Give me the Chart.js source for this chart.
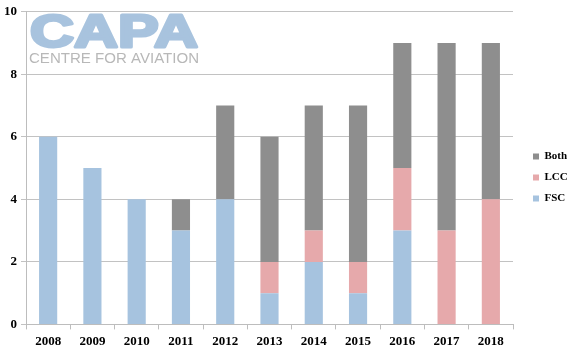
<!DOCTYPE html>
<html>
<head>
<meta charset="utf-8">
<script src="https://cdn.jsdelivr.net/npm/chart.js@4"></script>
<style>
  html, body { margin: 0; padding: 0; background: #fff; }
  #wrap { width: 579px; height: 353px; }
</style>
</head>
<body>
<div id="wrap"><canvas id="chart"></canvas></div>
<script>
const years = ['2008', '2009', '2010', '2011', '2012', '2013', '2014', '2015', '2016', '2017', '2018'];
const fsc  = [6, 5, 4, 3, 4, 1, 2, 1, 3, 0, 0];
const lcc  = [0, 0, 0, 0, 0, 1, 1, 1, 2, 3, 4];
const both = [0, 0, 0, 1, 3, 4, 4, 5, 4, 6, 5];
const yTicks = [0, 2, 4, 6, 8, 10];

const tickFont = { family: 'Liberation Serif', weight: 'bold', size: 13 };

// CAPA watermark in the top left of the plot
const watermark = {
    id: 'watermark',
    beforeDatasetsDraw(chart) {
        const ctx = chart.ctx;
        const left = chart.chartArea.left + 3;
        ctx.save();
        ctx.textBaseline = 'alphabetic';
        ctx.textAlign = 'left';

        ctx.font = 'bold 46px "Liberation Sans"';
        ctx.fillStyle = '#a8c3de';
        ctx.strokeStyle = '#a8c3de';
        ctx.lineWidth = 3;
        ctx.lineJoin = 'round';
        let w = ctx.measureText('CAPA').width;
        ctx.save();
        ctx.translate(left + 1, 47);
        ctx.scale(168 / w, 1);
        ctx.fillText('CAPA', 0, 0);
        ctx.strokeText('CAPA', 0, 0);
        ctx.restore();

        ctx.font = '15px "Liberation Sans"';
        ctx.fillStyle = '#b8b8b8';
        w = ctx.measureText('CENTRE FOR AVIATION').width;
        ctx.translate(left, 63);
        ctx.scale(170 / w, 1);
        ctx.fillText('CENTRE FOR AVIATION', 0, 0);
        ctx.restore();
    }
};

// fixed legend column on the right, items pushed in a bit
const legendBox = {
    id: 'legendBox',
    afterInit(chart) {
        const lg = chart.legend;
        const fit = lg.fit;
        lg.fit = function () {
            fit.call(this);
            this.width = 66;
        };
    },
    beforeDraw(chart) {
        chart.legend.left = chart.chartArea.right + 10;
        chart.legend.top -= 2;
    }
};

new Chart(document.getElementById('chart'), {
    type: 'bar',
    data: {
        labels: years,
        datasets: [
            { label: 'FSC', data: fsc, backgroundColor: '#a6c3df' },
            { label: 'LCC', data: lcc, backgroundColor: '#e6a9ab' },
            { label: 'Both', data: both, backgroundColor: '#8e8e8e' }
        ]
    },
    options: {
        responsive: true,
        maintainAspectRatio: false,
        animation: false,
        layout: { padding: { top: 4, right: 0, left: 0, bottom: 0 } },
        datasets: { bar: { barPercentage: 0.41, categoryPercentage: 1 } },
        plugins: {
            legend: {
                position: 'right',
                reverse: true,
                labels: {
                    boxWidth: 6,
                    boxHeight: 6,
                    padding: 10,
                    color: '#000',
                    font: { family: 'Liberation Serif', weight: 'bold', size: 11 }
                }
            },
            tooltip: { enabled: false }
        },
        scales: {
            x: {
                stacked: true,
                grid: { offset: true, drawOnChartArea: false, color: '#bdbdbd', tickLength: 5 },
                border: { color: '#bdbdbd' },
                ticks: { color: '#000', font: tickFont, maxRotation: 0, padding: 4 }
            },
            y: {
                stacked: true,
                min: 0,
                max: 10,
                afterBuildTicks(axis) { axis.ticks = yTicks.map(v => ({ value: v })); },
                grid: { color: '#c2c2c2', tickLength: 5 },
                border: { color: '#bdbdbd' },
                ticks: { color: '#000', font: tickFont, padding: 4 }
            }
        }
    },
    plugins: [watermark, legendBox]
});
</script>
</body>
</html>
